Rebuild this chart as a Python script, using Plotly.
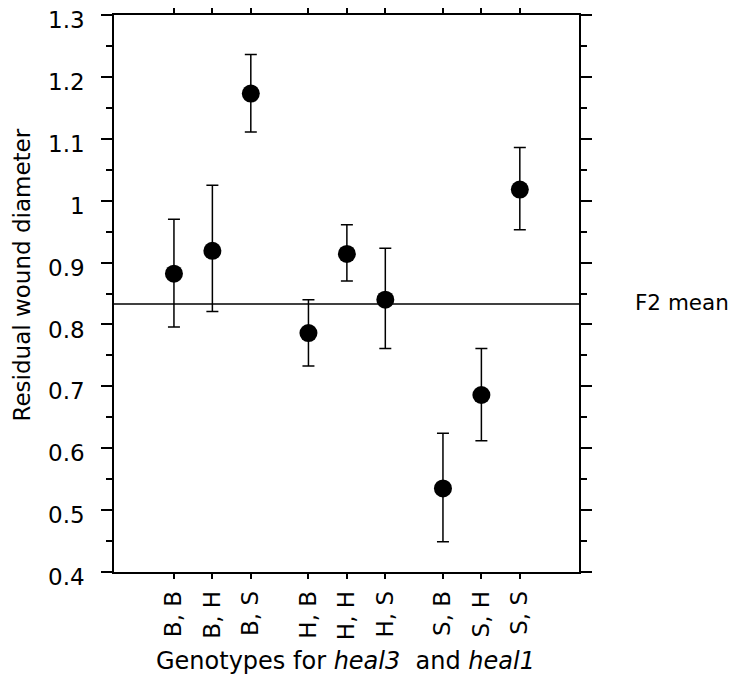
import plotly.graph_objects as go

# Data
genotypes = ["B, B", "B, H", "B, S", "H, B", "H, H", "H, S", "S, B", "S, H", "S, S"]
positions = [1, 2, 3, 4.5, 5.5, 6.5, 8, 9, 10]
means = [0.882, 0.919, 1.173, 0.786, 0.914, 0.840, 0.535, 0.686, 1.018]
upper = [0.970, 1.025, 1.236, 0.840, 0.961, 0.923, 0.624, 0.761, 1.086]
lower = [0.796, 0.821, 1.111, 0.733, 0.870, 0.761, 0.449, 0.612, 0.953]
f2_mean = 0.833

y_ticks = [0.4, 0.5, 0.6, 0.7, 0.8, 0.9, 1.0, 1.1, 1.2, 1.3]
y_ticktext = ["0.4", "0.5", "0.6", "0.7", "0.8", "0.9", "1", "1.1", "1.2", "1.3"]

err_plus = [u - m for u, m in zip(upper, means)]
err_minus = [m - l for m, l in zip(means, lower)]

FONT = "DejaVu Sans, Verdana, sans-serif"

fig = go.Figure()
fig.add_trace(go.Scatter(
    x=positions, y=means, mode="markers",
    marker=dict(size=18, color="black"),
    error_y=dict(type="data", symmetric=False, array=err_plus, arrayminus=err_minus,
                 color="black", thickness=1.5, width=6),
    showlegend=False,
))

fig.add_hline(y=f2_mean, line=dict(color="black", width=1.5))

fig.update_layout(
    width=730, height=688,
    margin=dict(l=106, r=159, t=7, b=124, autoexpand=False),
    plot_bgcolor="white", paper_bgcolor="white",
    font=dict(family=FONT, color="black"),
    xaxis=dict(
        range=[-0.56, 11.54], tickvals=positions, ticktext=genotypes,
        tickangle=-90, ticks="outside", ticklen=5, tickwidth=1.5, tickcolor="black",
        showline=True, linecolor="black", linewidth=1.5, mirror="ticks",
        showgrid=False, zeroline=False, tickfont=dict(size=23, family=FONT),
        automargin=False, ticklabelstandoff=3, ticklabeloverflow="allow",
    ),
    yaxis=dict(
        range=[0.4, 1.3], tickvals=y_ticks, ticktext=y_ticktext,
        ticks="outside", ticklen=11, tickwidth=1.5, tickcolor="black",
        showline=True, linecolor="black", linewidth=1.5, mirror="ticks",
        showgrid=False, zeroline=False, tickfont=dict(size=23, family=FONT),
        automargin=False, ticklabelstandoff=12, ticklabeloverflow="allow",
        ticklabelshift=5,
        minor=dict(dtick=0.05, tick0=0.4, ticks="outside", ticklen=6, tickwidth=1.5,
                   tickcolor="black", showgrid=False),
    ),
    annotations=[
        dict(text="Residual wound diameter", xref="paper", yref="paper", x=-0.198, y=0.534,
             textangle=-90, xanchor="center", yanchor="middle", showarrow=False,
             font=dict(size=23, family=FONT)),
        dict(text="F2 mean", xref="paper", yref="y", x=1.116, y=0.836,
             xanchor="left", yanchor="middle", showarrow=False, font=dict(size=21.5, family=FONT)),
        dict(text="Genotypes for <i>heal3</i>  and <i>heal1</i>", xref="paper", yref="paper",
             x=0.497, y=-0.16, xanchor="center", yanchor="middle", showarrow=False,
             font=dict(size=24, family=FONT)),
    ],
)

fig.write_html("out.html")
